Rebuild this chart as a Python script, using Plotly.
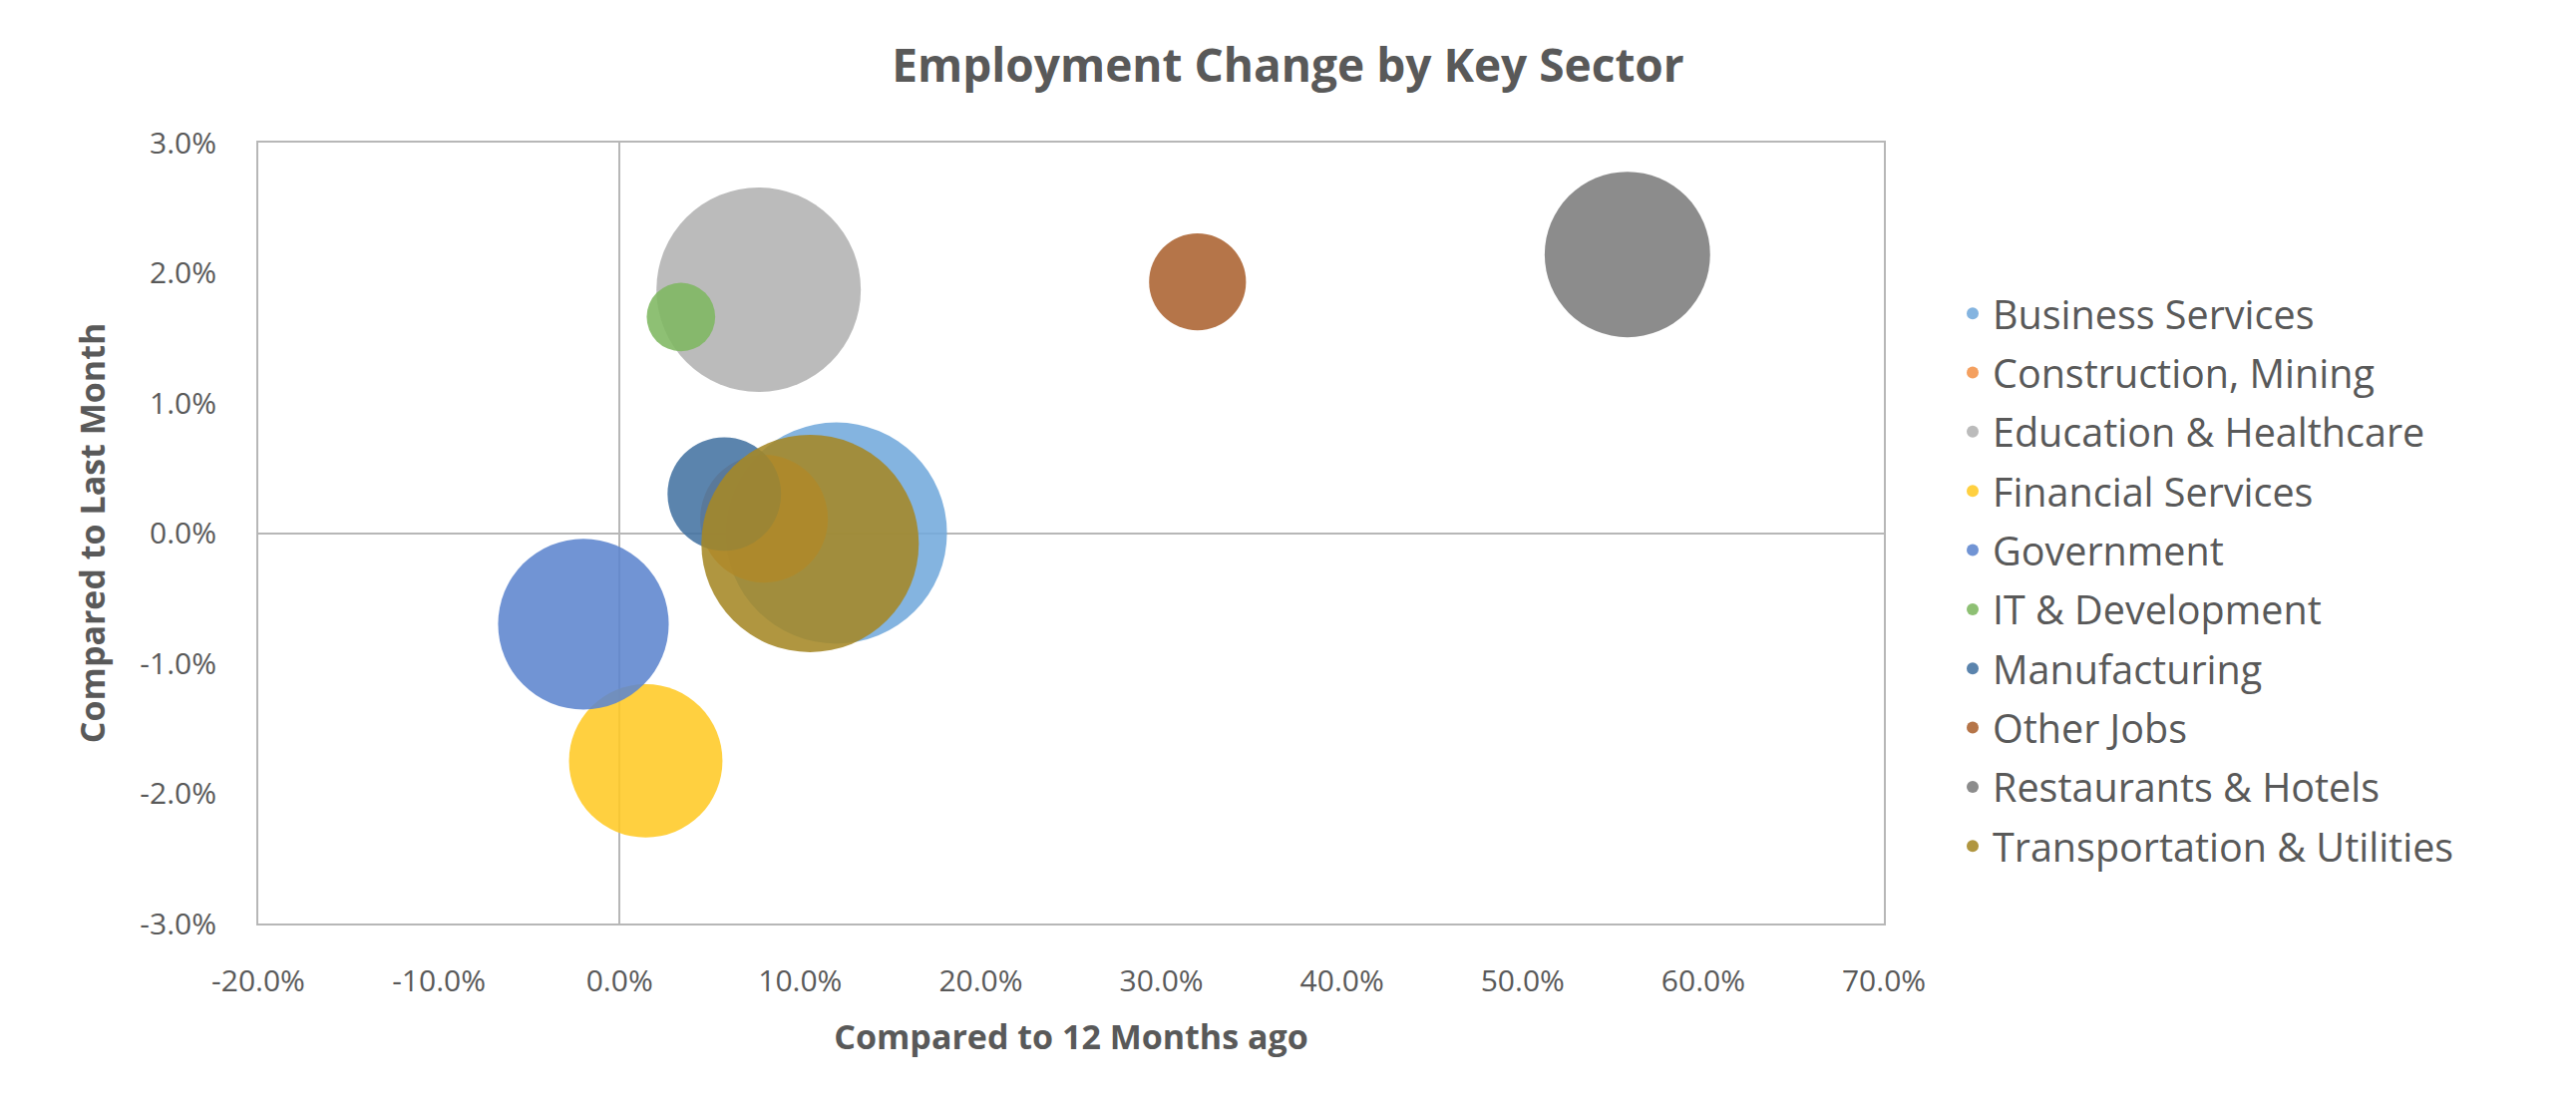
import plotly.graph_objects as go

sectors = ["Business Services", "Construction, Mining", "Education & Healthcare",
           "Financial Services", "Government", "IT & Development", "Manufacturing",
           "Other Jobs", "Restaurants & Hotels", "Transportation & Utilities"]
change_12m = [12.0, 8.0, 7.7, 1.45, -2.0, 3.4, 5.8, 32.0, 55.8, 10.55]
change_month = [0.0, 0.11, 1.87, -1.75, -0.70, 1.66, 0.30, 1.93, 2.14, -0.08]
employment = [61600, 20500, 52500, 29600, 36600, 5900, 16200, 11800, 34400, 59400]
colors = ["rgba(115,170,220,0.88)", "rgba(243,147,74,0.88)", "rgba(178,178,178,0.88)",
          "rgba(255,201,37,0.88)", "rgba(93,133,206,0.88)", "rgba(126,183,97,0.88)",
          "rgba(68,115,162,0.88)", "rgba(171,98,48,0.88)", "rgba(124,124,124,0.88)",
          "rgba(165,136,37,0.88)"]

x_ticks = [-20, -10, 0, 10, 20, 30, 40, 50, 60, 70]
x_tick_labels = ["-20.0%", "-10.0%", "0.0%", "10.0%", "20.0%", "30.0%",
                 "40.0%", "50.0%", "60.0%", "70.0%"]
y_ticks = [-3, -2, -1, 0, 1, 2, 3]
y_tick_labels = ["-3.0%", "-2.0%", "-1.0%", "0.0%", "1.0%", "2.0%", "3.0%"]

FONT = "Open Sans"
TXT = "#595959"
LINE = "#B7B7B7"

fig = go.Figure()
for i, s in enumerate(sectors):
    fig.add_trace(go.Scatter(
        x=[change_12m[i]], y=[change_month[i]], mode="markers", name=s,
        legendgroup=s,
        marker=dict(size=[employment[i]], sizemode="area", sizeref=2.5, opacity=1,
                    color=colors[i], line=dict(width=0)),
    ))

fig.update_layout(
    width=2583, height=1114,
    margin=dict(l=259, r=694, t=143, b=188),
    paper_bgcolor="white", plot_bgcolor="white",
    font=dict(family=FONT, color=TXT),
    title=dict(text="<b>Employment Change by Key Sector</b>", x=0.5, xref="container",
               xanchor="center", y=1 - 66 / 1114, yref="container", yanchor="middle",
               font=dict(size=46, color=TXT, family=FONT)),
    showlegend=True,
    legend=dict(x=(1958 - 259) / 1630, xanchor="left", y=0.44, yanchor="middle",
                font=dict(size=39.5, color=TXT, family=FONT), itemsizing="constant",
                tracegroupgap=5, bgcolor="rgba(0,0,0,0)"),
)
fig.update_xaxes(
    range=[-20, 70], tickvals=x_ticks, ticktext=x_tick_labels,
    showgrid=False, zeroline=True, zerolinecolor=LINE, zerolinewidth=2,
    showline=True, linecolor=LINE, linewidth=2, mirror=True,
    ticks="", ticklabelstandoff=30,
    tickfont=dict(size=30, color=TXT, family=FONT),
    title=dict(text="<b>Compared to 12 Months ago</b>", standoff=26,
               font=dict(size=34, color=TXT, family=FONT)),
)
fig.update_yaxes(
    range=[-3, 3], tickvals=y_ticks, ticktext=y_tick_labels,
    showgrid=False, zeroline=True, zerolinecolor=LINE, zerolinewidth=2,
    showline=True, linecolor=LINE, linewidth=2, mirror=True,
    ticks="", ticklabelstandoff=34,
    tickfont=dict(size=30, color=TXT, family=FONT),
    title=dict(text="<b>Compared to Last Month</b>", standoff=24,
               font=dict(size=34, color=TXT, family=FONT)),
)

fig.write_html("out.html")
